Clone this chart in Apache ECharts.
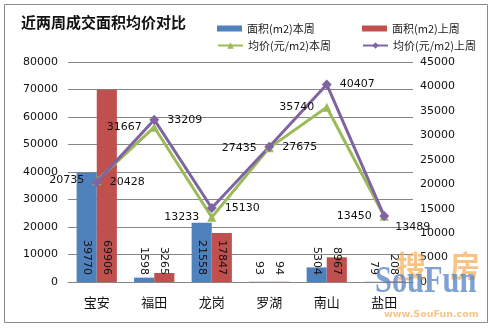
<!DOCTYPE html>
<html>
<head>
<meta charset="utf-8">
<script src="https://cdn.jsdelivr.net/npm/echarts@6/dist/echarts.min.js"></script>
<style>
  html, body { margin: 0; padding: 0; background: #fff; }
  #chart { width: 495px; height: 330px; }
</style>
</head>
<body>
<div id="chart"></div>
<script>
// 区域
const districts = ['宝安', '福田', '龙岗', '罗湖', '南山', '盐田'];
// 成交面积 (m2)
const areaThisWeek = [39770, 1598, 21558, 93, 5304, 79];
const areaLastWeek = [69906, 3265, 17847, 94, 8967, 208];
// 成交均价 (元/m2)
const priceThisWeek = [20735, 31667, 13233, 27435, 35740, 13450];
const priceLastWeek = [20428, 33209, 15130, 27675, 40407, 13489];

const NAMES = ['面积(m2)本周', '面积(m2)上周', '均价(元/m2)本周', '均价(元/m2)上周'];
const C_BLUE = '#4F81BD', C_RED = '#C0504D', C_GREEN = '#9BBB59', C_PURPLE = '#8064A2';
const FONT = 'DejaVu Sans';
const CJK = 'Noto Sans CJK SC';

const chart = echarts.init(document.getElementById('chart'), null, { renderer: 'canvas' });

const barLabel = {
  show: true,
  position: 'insideBottom',
  rotate: -90,
  align: 'right',
  verticalAlign: 'middle',
  distance: 7,
  color: '#111',
  fontFamily: FONT,
  fontSize: 11
};

function legendAt(name, left, top, icon) {
  const o = {
    data: [name], left: left, top: top, itemWidth: 25, itemHeight: icon ? 6 : 8,
    itemGap: 4,
    textStyle: { fontFamily: CJK, fontSize: 11, color: '#222' },
    selectedMode: false
  };
  if (icon) o.icon = icon;
  return o;
}

const plainNumber = v => String(v);

// 上周均价在盐田的标签放在右下方
const priceLastData = priceLastWeek.map((v, i) => i === 5
  ? { value: v, label: { offset: [-2, 11] } }
  : v);

chart.setOption({
  animation: false,
  backgroundColor: '#fff',
  title: {
    text: '近两周成交面积均价对比',
    left: 16, top: 10,
    textStyle: { fontFamily: CJK, fontSize: 15, fontWeight: 'bold', color: '#111' }
  },
  legend: [
    legendAt(NAMES[0], 212, 18, 'rect'),
    legendAt(NAMES[1], 357, 18, 'rect'),
    legendAt(NAMES[2], 212, 35),
    legendAt(NAMES[3], 357, 35)
  ],
  grid: { left: 68, right: 82, top: 62, bottom: 48, containLabel: false },
  xAxis: {
    type: 'category',
    data: districts,
    axisLine: { show: true, lineStyle: { color: '#868686' } },
    axisTick: { show: false },
    axisLabel: { fontFamily: CJK, fontSize: 13, color: '#111', margin: 14 }
  },
  yAxis: [
    {
      type: 'value', min: 0, max: 80000, interval: 10000,
      axisLine: { show: false }, axisTick: { show: false },
      splitLine: { lineStyle: { color: '#868686' } },
      axisLabel: { fontFamily: FONT, fontSize: 11, color: '#111', margin: 10, formatter: plainNumber }
    },
    {
      type: 'value', min: 0, max: 45000, interval: 5000,
      axisLine: { show: false }, axisTick: { show: false },
      splitLine: { show: false },
      axisLabel: { fontFamily: FONT, fontSize: 11, color: '#111', margin: 7, formatter: plainNumber }
    }
  ],
  series: [
    {
      name: NAMES[0], type: 'bar', data: areaThisWeek, yAxisIndex: 0,
      barGap: '0%', barCategoryGap: '30%',
      itemStyle: { color: C_BLUE }, label: barLabel
    },
    {
      name: NAMES[1], type: 'bar', data: areaLastWeek, yAxisIndex: 0,
      barGap: '0%', barCategoryGap: '30%',
      itemStyle: { color: C_RED }, label: barLabel
    },
    {
      name: NAMES[2], type: 'line', data: priceThisWeek, yAxisIndex: 1,
      symbol: 'triangle', symbolSize: 9,
      lineStyle: { color: C_GREEN, width: 3 },
      itemStyle: { color: C_GREEN },
      label: { show: true, position: 'left', distance: 8, color: '#111', fontFamily: FONT, fontSize: 11 }
    },
    {
      name: NAMES[3], type: 'line', data: priceLastData, yAxisIndex: 1,
      symbol: 'diamond', symbolSize: 10,
      lineStyle: { color: C_PURPLE, width: 3 },
      itemStyle: { color: C_PURPLE },
      label: { show: true, position: 'right', distance: 8, color: '#111', fontFamily: FONT, fontSize: 11 }
    }
  ],
  graphic: [
    {
      type: 'rect', shape: { x: 4.5, y: 4.5, width: 483, height: 318 },
      style: { fill: 'none', stroke: '#8a8a8a', lineWidth: 1 }, silent: true
    },
    {
      type: 'text', x: 396, y: 251, silent: true, z: 100,
      style: { text: '搜', fontFamily: CJK, fontWeight: 'bold', fontSize: 30,
        fill: 'rgba(242,165,70,0.65)' }
    },
    {
      type: 'text', x: 450, y: 251, silent: true, z: 100,
      style: { text: '房', fontFamily: CJK, fontWeight: 'bold', fontSize: 30,
        fill: 'rgba(242,165,70,0.65)' }
    },
    {
      type: 'text', x: 375, y: 263, scaleX: 0.8, silent: true, z: 101,
      style: { text: 'SouFun', fontFamily: 'Liberation Serif', fontWeight: 'bold', fontSize: 38,
        fill: 'rgba(80,130,195,0.75)' }
    },
    {
      type: 'text', x: 384, y: 310, silent: true, z: 100,
      style: { text: 'www.SouFun.com', fontFamily: 'DejaVu Sans', fontWeight: 'bold', fontSize: 9.5,
        fill: 'rgba(242,165,70,0.65)' }
    }
  ]
});
</script>
</body>
</html>
